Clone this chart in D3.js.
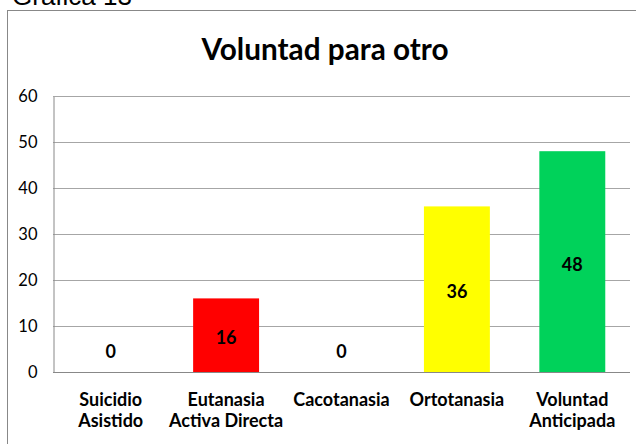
<!DOCTYPE html>
<html>
<head>
<meta charset="utf-8">
<script src="https://cdn.jsdelivr.net/npm/d3@7"></script>
<style>
  html, body { margin: 0; padding: 0; background: #fff; }
  svg { display: block; }
</style>
</head>
<body>
<svg id="chart" width="636" height="444"></svg>
<script>
// data
const categories = [["Suicidio", "Asistido"], ["Eutanasia", "Activa Directa"], ["Cacotanasia"], ["Ortotanasia"], ["Voluntad", "Anticipada"]];
const values = [0, 16, 0, 36, 48];
const barColors = ["#ff0000", "#ff0000", "#ff0000", "#ffff00", "#00d25a"];
const yTicks = [0, 10, 20, 30, 40, 50, 60];
const chartTitle = "Voluntad para otro";
const caption = "Gráfica 13";

const svg = d3.select("#chart");
const font = "Lato, 'Open Sans', sans-serif";

// caption above the frame, mostly cut off (as in the original)
svg.append("text")
    .attr("x", 12).attr("y", 5)
    .attr("font-family", "'Liberation Sans', Arial, sans-serif")
    .attr("font-size", 26)
    .attr("fill", "#000")
    .text(caption);

// chart frame
svg.append("rect")
    .attr("x", 7.5).attr("y", 10.5)
    .attr("width", 700).attr("height", 500)
    .attr("fill", "#fff")
    .attr("stroke", "#888").attr("stroke-width", 1);

svg.append("text")
    .attr("x", 325).attr("y", 60)
    .attr("text-anchor", "middle")
    .attr("font-family", font)
    .attr("font-weight", "bold")
    .attr("font-size", 30)
    .attr("textLength", 247)
    .attr("lengthAdjust", "spacingAndGlyphs")
    .text(chartTitle);

const plot = {left: 53, right: 630, top: 96, bottom: 372};

const x = d3.scaleBand()
    .domain(d3.range(categories.length))
    .range([plot.left, plot.right])
    .paddingInner(0.4286)
    .paddingOuter(0.2143);

const y = d3.scaleLinear()
    .domain([0, 60])
    .range([plot.bottom, plot.top]);

// gridlines
svg.append("g")
  .selectAll("line")
  .data(yTicks.filter(d => d > 0))
  .join("line")
    .attr("x1", plot.left).attr("x2", plot.right)
    .attr("y1", d => Math.round(y(d)) + 0.5)
    .attr("y2", d => Math.round(y(d)) + 0.5)
    .attr("stroke", "#a6a6a6");

// y axis
const yAxis = svg.append("g")
    .attr("transform", `translate(${plot.left + 0.5},0.5)`)
    .call(d3.axisLeft(y).tickValues(yTicks).tickSize(0).tickPadding(16));
yAxis.select(".domain").attr("stroke", "#888");
yAxis.selectAll("text")
    .attr("font-family", font)
    .attr("font-size", 16.5)
    .attr("fill", "#000");

// bars
svg.append("g")
  .selectAll("rect")
  .data(values)
  .join("rect")
    .attr("x", (d, i) => x(i))
    .attr("y", d => y(d))
    .attr("width", x.bandwidth())
    .attr("height", d => y(0) - y(d))
    .attr("fill", (d, i) => barColors[i]);

// x axis line
svg.append("line")
    .attr("x1", plot.left).attr("x2", plot.right)
    .attr("y1", plot.bottom + 0.5).attr("y2", plot.bottom + 0.5)
    .attr("stroke", "#888");

// value labels
svg.append("g")
  .selectAll("text")
  .data(values)
  .join("text")
    .attr("x", (d, i) => x(i) + x.bandwidth() / 2)
    .attr("y", d => Math.min((y(d) + y(0)) / 2 + 9, y(0) - 14))
    .attr("text-anchor", "middle")
    .attr("font-family", font)
    .attr("font-weight", "bold")
    .attr("font-size", 18)
    .attr("fill", "#000")
    .text(d => d);

// category labels
const cat = svg.append("g")
  .selectAll("text")
  .data(categories)
  .join("text")
    .attr("x", (d, i) => x(i) + x.bandwidth() / 2)
    .attr("y", 406)
    .attr("text-anchor", "middle")
    .attr("font-family", font)
    .attr("font-weight", "bold")
    .attr("font-size", 18)
    .attr("fill", "#000");
cat.selectAll("tspan")
  .data(d => d)
  .join("tspan")
    .attr("x", function () { return this.parentNode.getAttribute("x"); })
    .attr("dy", (d, i) => i === 0 ? 0 : 21)
    .text(d => d);
</script>
</body>
</html>
